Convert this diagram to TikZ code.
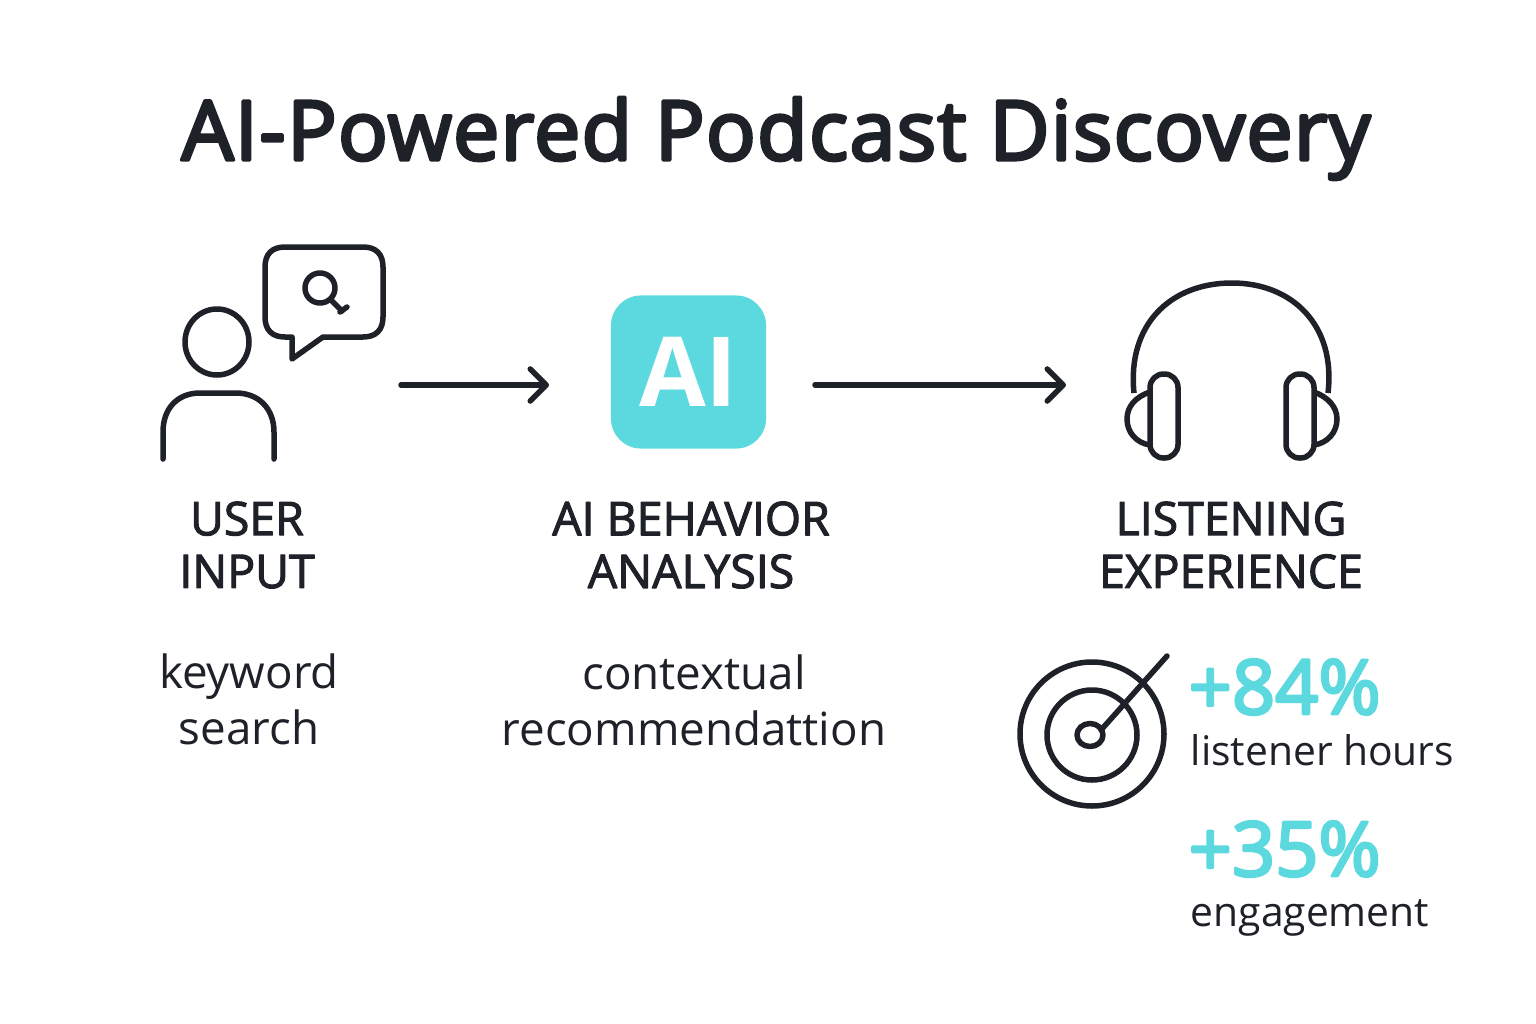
\documentclass[tikz,border=0pt]{standalone}
\usepackage{fontspec}
\setmainfont{Open Sans}
\newfontfamily\titlefont[LetterSpace=1.5]{Open Sans}
\usetikzlibrary{arrows.meta}

\definecolor{ink}{HTML}{1E2128}
\definecolor{aqua}{HTML}{5CD9DF}

% Heavier text: outline the glyphs as well as filling them.
\newcommand{\heavytext}[2]{\special{pdf:code 2 Tr #1 w}#2\special{pdf:code 0 Tr}}

\tikzset{
    iconline/.style = {draw = ink, line width = 0.55mm},
    flowarrow/.style = {
        iconline,
        line cap = round,
        -{Straight Barb[length = 1.6mm, width = 3.2mm, round]}
    },
    titletext/.style = {text = ink, anchor = base, font = \titlefont\fontsize{23.5}{28}\selectfont},
    headtext/.style = {text = ink, align = center, font = \fontsize{13.2}{15}\selectfont},
    bodytext/.style = {text = ink, align = center, font = \fontsize{13}{16}\selectfont},
    stattext/.style = {text = aqua, anchor = base west, inner sep = 0pt, font = \fontsize{21.5}{25}\selectfont},
    captext/.style = {text = ink, anchor = base west, inner sep = 0pt, font = \fontsize{11.6}{14}\selectfont}
}

\begin{document}
\begin{tikzpicture}[x = 0.01cm, y = -0.01cm, line join = round]

        \useasboundingbox[fill = white] (0, 0) rectangle (1536, 1024);

        % Positions of all of the points.
        \coordinate (ttl) at (776, 160);
        \coordinate (usr) at (247, 545);
        \coordinate (bhv) at (691, 545);
        \coordinate (lsn) at (1231, 545);
        \coordinate (kwd) at (249, 699);
        \coordinate (ctx) at (694, 700);
        \coordinate (sta) at (1188, 714);
        \coordinate (stb) at (1190, 765);
        \coordinate (stc) at (1188, 876);
        \coordinate (std) at (1190, 926);
        \coordinate (ai) at (688.5, 372);
        \coordinate (inputout) at (401, 385);
        \coordinate (aiin) at (549, 385);
        \coordinate (aiout) at (815, 385);
        \coordinate (phonesin) at (1066, 385);

        % The title and the column labels.
        \node (title) at (ttl) [titletext] {\heavytext{0.9}{AI-Powered Podcast Discovery}};
        \node (userlabel) at (usr) [headtext] {\heavytext{0.3}{USER}\\\heavytext{0.3}{INPUT}};
        \node (behaviorlabel) at (bhv) [headtext] {\heavytext{0.3}{AI BEHAVIOR}\\\heavytext{0.3}{ANALYSIS}};
        \node (listenlabel) at (lsn) [headtext] {\heavytext{0.3}{LISTENING}\\\heavytext{0.3}{EXPERIENCE}};
        \node (keyword) at (kwd) [bodytext] {keyword\\search};
        \node (context) at (ctx) [bodytext] {contextual\\recommendattion};

        % The two results.
        \node (hoursvalue) at (sta) [stattext] {\heavytext{0.8}{+84\%}};
        \node (hourslabel) at (stb) [captext] {listener hours};
        \node (engvalue) at (stc) [stattext] {\heavytext{0.8}{+35\%}};
        \node (englabel) at (std) [captext] {engagement};

        % Person with the search bubble.
        \draw[iconline] (217, 342) ellipse [x radius = 32, y radius = 33];
        \draw[iconline, line cap = round] (163, 459) -- (163, 432)
            .. controls (163, 408) and (178, 393) .. (200, 393) -- (236, 393)
            .. controls (258, 393) and (274, 408) .. (274, 432) -- (274, 459);
        \draw[iconline] (285, 247) -- (363, 247)
            .. controls (376, 247) and (383, 254) .. (383, 267) -- (383, 317)
            .. controls (383, 330) and (376, 337) .. (363, 337) -- (323, 337)
            -- (292, 359) -- (292, 337) -- (285, 337)
            .. controls (272, 337) and (265, 330) .. (265, 317) -- (265, 267)
            .. controls (265, 254) and (272, 247) .. (285, 247) -- cycle;
        \draw[iconline] (320, 288) circle [radius = 15];
        \draw[iconline, line cap = round] (331, 300) -- (342, 311);
        \draw[iconline, line cap = round] (340, 312) -- (347, 307);

        % The AI tile.
        \node (aibox) at (ai) [
            fill = aqua,
            rounded corners = 0.3cm,
            minimum width = 1.55cm,
            minimum height = 1.53cm,
            text = white,
            font = \bfseries\fontsize{27.5}{30}\selectfont
        ] {AI};

        % Arrows between the columns.
        \draw[flowarrow] (inputout) -- (aiin);
        \draw[flowarrow] (aiout) -- (phonesin);

        % Headphones.
        \draw[iconline] (1134, 393)
            .. controls (1127, 325) and (1170, 283) .. (1232, 283)
            .. controls (1292, 283) and (1336, 325) .. (1328, 393);
        \draw[iconline, rounded corners = 0.135cm] (1150, 374) rectangle (1178, 458);
        \draw[iconline, rounded corners = 0.135cm] (1286, 374) rectangle (1314, 458);
        \draw[iconline] (1150, 392)
            .. controls (1135, 397) and (1127, 407) .. (1127, 419)
            .. controls (1127, 432) and (1136, 443) .. (1150, 445);
        \draw[iconline] (1314, 392)
            .. controls (1328, 397) and (1337, 407) .. (1337, 419)
            .. controls (1337, 432) and (1328, 443) .. (1314, 445);

        % Target with the needle.
        \draw[iconline] (1092, 734) circle [radius = 72];
        \draw[iconline] (1092, 735) circle [radius = 45];
        \draw[iconline] (1090, 735) ellipse [x radius = 13, y radius = 11.5];
        \draw[iconline, line cap = round] (1101, 730) -- (1167, 656);
    \end{tikzpicture}
\end{document}
